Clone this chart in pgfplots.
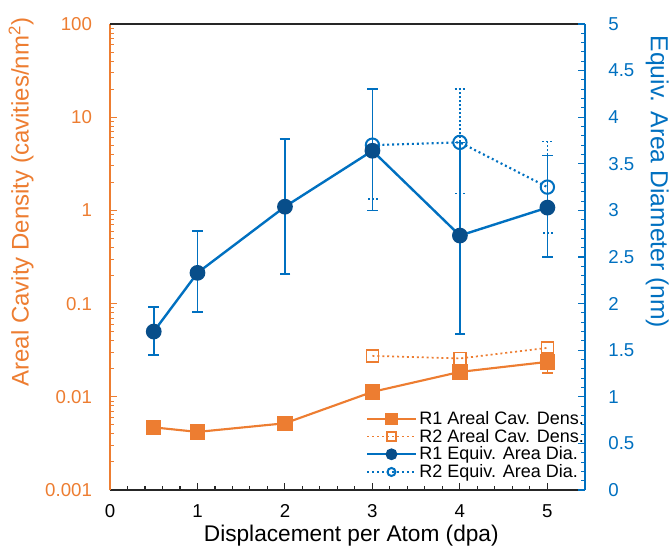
\documentclass[border=0pt]{standalone}
\usepackage{pgfplots}
\pgfplotsset{compat=1.18}
\usepackage{fontspec}
\setmainfont{Liberation Sans}
\definecolor{xorange}{HTML}{ED7D31}
\definecolor{xblue}{HTML}{0070C0}
\definecolor{xnavy}{RGB}{8,78,138}
\begin{document}
\begin{tikzpicture}
\begin{axis}[
  scale only axis, width=356.25pt, height=349.5pt,
  xmin=0, xmax=5.43, ymode=log, ymin=0.001, ymax=100,
  axis x line*=bottom, axis y line*=left,
  x axis line style={-, black!85, line width=0.9pt},
  y axis line style={-, xorange, line width=0.9pt},
  xtick={0,1,2,3,4,5}, minor x tick num=4,
  ytick={0.001,0.01,0.1,1,10,100}, yticklabels={0.001,0.01,0.1,1,10,100},
  minor ytick={0.002,0.003,0.004,0.005,0.006,0.007,0.008,0.009,0.02,0.03,0.04,0.05,0.06,0.07,0.08,0.09,0.2,0.3,0.4,0.5,0.6,0.7,0.8,0.9,2,3,4,5,6,7,8,9,20,30,40,50,60,70,80,90},
  tick align=inside, major tick length=5pt, minor tick length=3pt,
  x tick style={black!85, line width=0.8pt}, y tick style={xorange, line width=0.8pt},
  /pgf/number format/assume math mode=true,
  tick label style={font=\fontsize{14}{16}\selectfont},
  yticklabel style={xorange, xshift=-10pt},
  xticklabel style={black, yshift=-7.5pt},
  xlabel={Displacement per Atom (dpa)},
  xlabel style={at={(axis description cs:0.508,-0.098)}, anchor=center, font=\fontsize{17}{19}\selectfont},
  ylabel={Areal Cavity Density (cavities/nm\textsuperscript{2})},
  ylabel style={at={(axis description cs:-0.187,0.618)}, anchor=center, xorange, font=\fontsize{18}{20}\selectfont},
  clip=false,
]
\draw[black!85, line width=0.9pt] (rel axis cs:0,1) -- (rel axis cs:1,1);
% R2 areal cavity density (dotted, open squares)
\addplot[xorange, line width=1.3pt, dash pattern=on 1.5pt off 2.2pt,
  mark=square, mark size=4.5pt, mark options={solid, line width=1.3pt}]
  coordinates {(3,0.0275) (4,0.0258) (5,0.0335)};
% R1 areal cavity density (solid, filled squares)
\addplot[xorange, line width=1.6pt, mark=square*, mark size=5pt, mark options={solid, fill=xorange},
  error bars/.cd, y dir=both, y explicit,
  error bar style={xorange, line width=1.2pt, solid},
  error mark options={rotate=90, mark size=4pt, line width=1.2pt, xorange}]
  table[x=x, y=y, y error plus=ep, y error minus=em] {
  x y ep em
  0.5 0.0047 0 0
  1 0.0042 0 0
  2 0.0052 0 0
  3 0.0113 0.001 0.001
  4 0.0185 0.002 0.002
  5 0.0237 0.006 0.0058
};
\end{axis}
\begin{axis}[
  scale only axis, width=356.25pt, height=349.5pt,
  xmin=0, xmax=5.43, ymin=0, ymax=5,
  axis x line=none, axis y line*=right,
  y axis line style={-, xblue, line width=0.9pt},
  ytick={0,0.5,...,5}, minor y tick num=4,
  tick align=inside, major tick length=5pt, minor tick length=3pt,
  y tick style={xblue, line width=0.8pt},
  /pgf/number format/assume math mode=true,
  yticklabel style={xblue, xshift=14pt, font=\fontsize{14}{16}\selectfont},
  ylabel={Equiv. Area Diameter (nm)},
  ylabel style={at={(axis description cs:1.152,0.661)}, anchor=center, rotate=180, xblue, font=\fontsize{18.5}{20}\selectfont},
  legend style={at={(axis description cs:0.536,0.178)}, anchor=north west, draw=none, fill=none,
    font=\fontsize{13.5}{13.5}\selectfont, row sep=-2pt, inner sep=1pt},
  legend cell align=left,
  legend image code/.code={\draw[mark repeat=2, mark phase=2] plot coordinates {(0cm,0cm) (0.635cm,0cm) (1.27cm,0cm)};},
  clip=false,
]
\addlegendimage{xorange, line width=1.6pt, mark=square*, mark size=3.8pt, mark options={solid, fill=xorange}}
\addlegendentry{R1 Areal Cav. Dens.}
\addlegendimage{xorange, line width=1.3pt, dash pattern=on 1.5pt off 2.2pt, mark=square, mark size=3.5pt, mark options={solid, line width=1.3pt}}
\addlegendentry{R2 Areal Cav. Dens.}
\addlegendimage{xblue, line width=1.8pt, mark=*, mark size=3.5pt, mark options={solid, fill=xnavy, draw=xnavy}}
\addlegendentry{R1 Equiv. Area Dia.}
\addlegendimage{xblue, line width=1.6pt, dash pattern=on 1.5pt off 2.2pt, mark=o, mark size=3pt, mark options={solid, line width=1.5pt}}
\addlegendentry{R2 Equiv. Area Dia.}
% R2 equivalent area diameter (dotted, open circles)
\addplot[forget plot, xblue, line width=1.6pt, dash pattern=on 1.5pt off 2.2pt,
  mark=o, mark size=5pt, mark options={solid, line width=1.5pt, draw=xblue},
  error bars/.cd, y dir=both, y explicit,
  error bar style={xblue, line width=1.3pt, dash pattern=on 1.5pt off 1.5pt},
  error mark options={rotate=90, mark size=4pt, line width=1.3pt, xblue, dash pattern=on 1.5pt off 1.5pt}]
  table[x=x, y=y, y error plus=ep, y error minus=em] {
  x y ep em
  3 3.70 0.60 0.58
  4 3.73 0.57 0.55
  5 3.25 0.49 0.49
};
% R1 equivalent area diameter (solid, filled circles)
\addplot[forget plot, xblue, line width=1.8pt,
  mark=*, mark size=5pt, mark options={solid, fill=xnavy, draw=xnavy},
  error bars/.cd, y dir=both, y explicit,
  error bar style={xblue, line width=1.3pt, solid},
  error mark options={rotate=90, mark size=4pt, line width=1.3pt, xblue}]
  table[x=x, y=y, y error plus=ep, y error minus=em] {
  x y ep em
  0.5 1.70 0.26 0.25
  1 2.33 0.45 0.42
  2 3.04 0.73 0.72
  3 3.64 0.66 0.64
  4 2.73 1.00 1.06
  5 3.03 0.56 0.53
};
\end{axis}
\pgfresetboundingbox
\path (-82.5pt,-45.75pt) rectangle (421.5pt,367.5pt);
\end{tikzpicture}
\end{document}
